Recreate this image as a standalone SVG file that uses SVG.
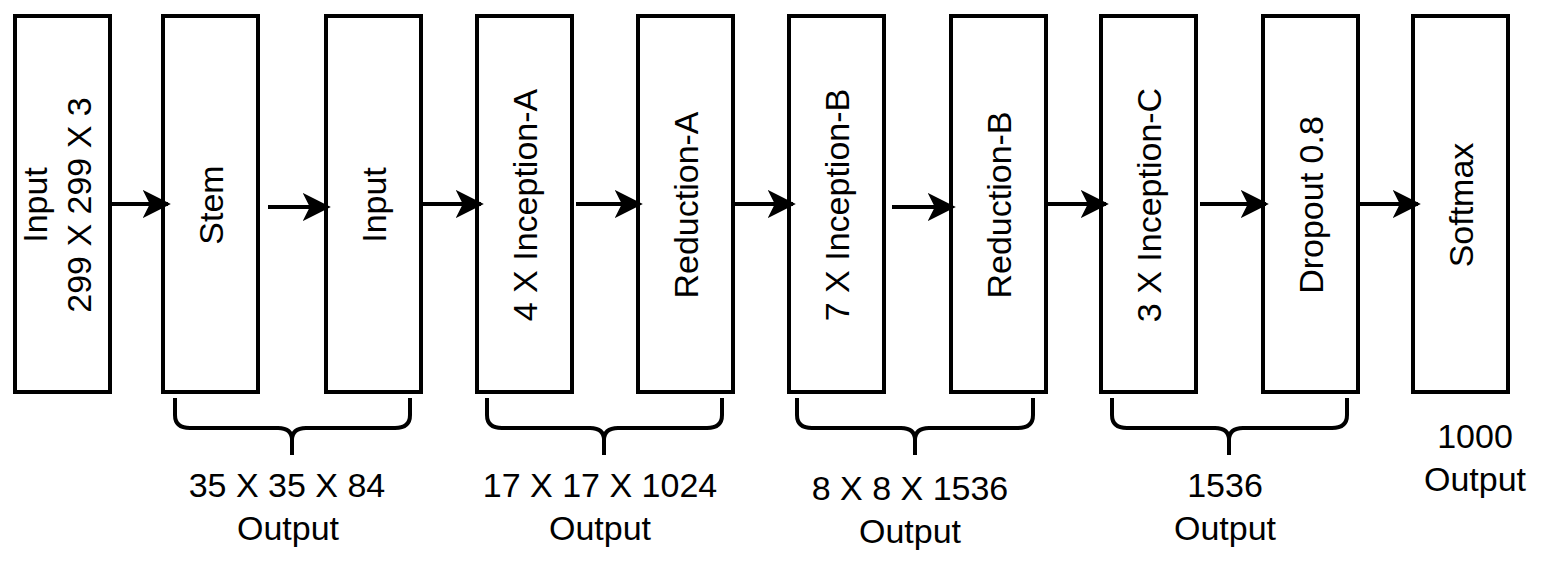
<svg xmlns="http://www.w3.org/2000/svg" width="1542" height="566" viewBox="0 0 1542 566">
<style>
.b{fill:#fff;stroke:#000;stroke-width:4}
.c{fill:none;stroke:#000;stroke-width:4}
text{font-family:"Liberation Sans",Arial,sans-serif;font-size:34px;fill:#000;text-anchor:middle}
</style>
<defs><marker id="a" viewBox="0 0 10 10" refX="9" refY="5" markerWidth="7" markerHeight="7" orient="auto" markerUnits="strokeWidth"><path d="M0,0L10,5L0,10L2.5,5z" fill="#000"/></marker></defs>
<rect width="1542" height="566" fill="#fff"/>
<g id="n1"><rect class="b" x="15" y="16" width="95" height="376"/><text transform="translate(58,205) rotate(-90)"><tspan x="0" y="-11">Input</tspan><tspan x="0" y="33">299 X 299 X 3</tspan></text></g>
<g id="n2"><rect class="b" x="163" y="16" width="95" height="376"/><text transform="translate(223,205) rotate(-90)">Stem</text></g>
<g id="n3"><rect class="b" x="326" y="16" width="95" height="376"/><text transform="translate(386,205) rotate(-90)">Input</text></g>
<g id="n4"><rect class="b" x="477" y="16" width="95" height="376"/><text transform="translate(537,205) rotate(-90)">4 X Inception-A</text></g>
<g id="n5"><rect class="b" x="638" y="16" width="95" height="376"/><text transform="translate(698,205) rotate(-90)">Reduction-A</text></g>
<g id="n6"><rect class="b" x="789" y="16" width="95" height="376"/><text transform="translate(849,205) rotate(-90)">7 X Inception-B</text></g>
<g id="n7"><rect class="b" x="951" y="16" width="95" height="376"/><text transform="translate(1011,205) rotate(-90)">Reduction-B</text></g>
<g id="n8"><rect class="b" x="1101" y="16" width="95" height="376"/><text transform="translate(1161,205) rotate(-90)">3 X Inception-C</text></g>
<g id="n9"><rect class="b" x="1263" y="16" width="95" height="376"/><text transform="translate(1323,205) rotate(-90)">Dropout 0.8</text></g>
<g id="n10"><rect class="b" x="1413" y="16" width="95" height="376"/><text transform="translate(1473,205) rotate(-90)">Softmax</text></g>
<g id="connectors" class="c">
<path class="c" d="M110,204H168" marker-end="url(#a)"/>
<path class="c" d="M268,207H328" marker-end="url(#a)"/>
<path class="c" d="M421,204H481" marker-end="url(#a)"/>
<path class="c" d="M576,204H640" marker-end="url(#a)"/>
<path class="c" d="M733,204H793" marker-end="url(#a)"/>
<path class="c" d="M892,207H953" marker-end="url(#a)"/>
<path class="c" d="M1046,204H1106" marker-end="url(#a)"/>
<path class="c" d="M1200,204H1266" marker-end="url(#a)"/>
<path class="c" d="M1358,204H1418" marker-end="url(#a)"/>
</g>
<g id="braces" class="c">
<path class="c" d="M175,398V415Q175,428 190,428H278Q292,428 292,440V455M292,440Q292,428 306,428H395Q410,428 410,415V398"/>
<path class="c" d="M487,398V415Q487,428 502,428H590Q604,428 604,440V455M604,440Q604,428 618,428H707Q722,428 722,415V398"/>
<path class="c" d="M797,398V415Q797,428 812,428H901Q915,428 915,440V455M915,440Q915,428 929,428H1018Q1033,428 1033,415V398"/>
<path class="c" d="M1112,398V415Q1112,428 1127,428H1215Q1229,428 1229,440V455M1229,440Q1229,428 1243,428H1332Q1347,428 1347,415V398"/>
</g>
<g id="labels">
<text x="287" y="497">35 X 35 X 84</text><text x="288" y="540">Output</text>
<text x="600" y="497">17 X 17 X 1024</text><text x="600" y="540">Output</text>
<text x="910" y="500">8 X 8 X 1536</text><text x="910" y="543">Output</text>
<text x="1225" y="497">1536</text><text x="1225" y="540">Output</text>
<text x="1475" y="448">1000</text><text x="1475" y="491">Output</text>
</g>
</svg>
